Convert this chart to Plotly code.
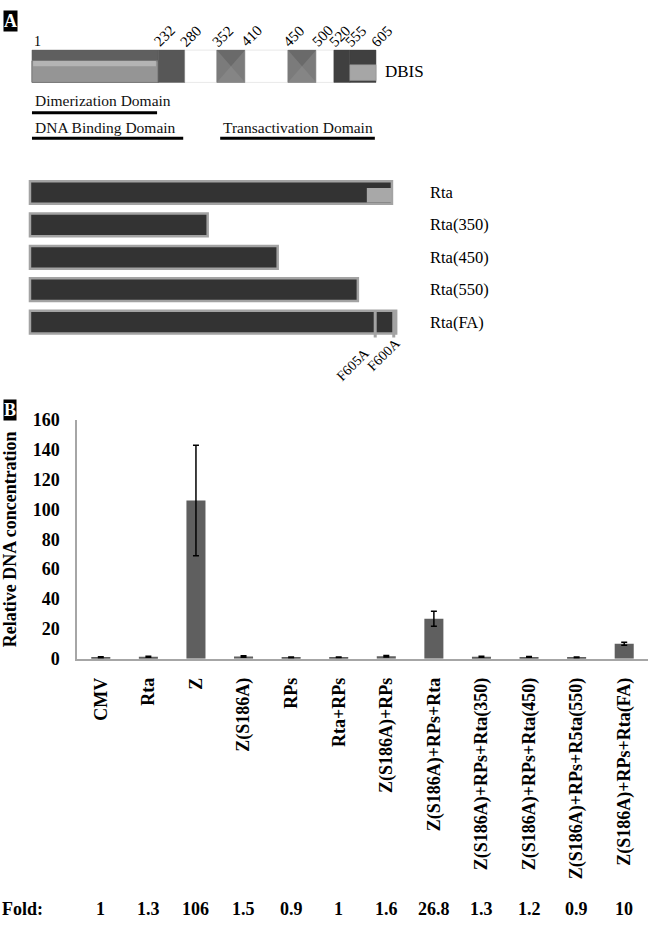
import plotly.graph_objects as go

SERIF = "Liberation Serif"

# --- Panel A: DBIS domain map ---
# residue numbers printed above the map, and where each boundary is drawn
# (the schematic is not to scale, so drawn positions are read off the figure)
dbis_labels = ["1", "232", "280", "352", "410", "450", "500", "520", "555", "605"]
dbis_drawn = [0, 222, 269, 325, 375, 450, 500, 531, 559, 605]
dbis_kind = ["dim", "dark", "white", "bevel", "white", "bevel", "white", "darker", "darker"]

domains = ["Dimerization Domain", "DNA Binding Domain", "Transactivation Domain"]
domain_start = [0, 0, 331]
domain_end = [220, 266, 603]

# Rta deletion constructs (drawn lengths)
constructs = ["Rta", "Rta(350)", "Rta(450)", "Rta(550)", "Rta(FA)"]
construct_len = [605, 297, 414, 548, 612]
fa_marks = [577, 608]
fa_labels = ["F605A", "F600A"]

# --- Panel B: qPCR ---
samples = [
    "CMV", "Rta", "Z", "Z(S186A)", "RPs", "Rta+RPs", "Z(S186A)+RPs",
    "Z(S186A)+RPs+Rta", "Z(S186A)+RPs+Rta(350)", "Z(S186A)+RPs+Rta(450)",
    "Z(S186A)+RPs+R5ta(550)", "Z(S186A)+RPs+Rta(FA)",
]
rel_dna = [1, 1.3, 106, 1.5, 0.9, 1, 1.6, 26.8, 1.3, 1.2, 0.9, 10]
rel_err = [0.3, 0.3, 37, 0.5, 0.2, 0.2, 0.5, 5, 0.3, 0.2, 0.2, 1]
fold = ["1", "1.3", "106", "1.5", "0.9", "1", "1.6", "26.8", "1.3", "1.2", "0.9", "10"]

W, H = 650, 927


def px_x(p):
    return p / W


def px_y(p):
    return (H - p) / H


fig = go.Figure()

fig.add_trace(
    go.Bar(
        x=samples,
        y=rel_dna,
        width=0.4,
        marker=dict(color="#5f5f5f", line=dict(width=0)),
        error_y=dict(type="data", array=rel_err, color="black", thickness=1.5, width=3),
        xaxis="x",
        yaxis="y",
    )
)

fig.add_trace(
    go.Bar(
        x=construct_len,
        y=constructs,
        orientation="h",
        width=0.7,
        marker=dict(color="#333333", line=dict(color="#a3a3a3", width=2.5)),
        xaxis="x3",
        yaxis="y3",
    )
)

shapes = []
annotations = []

# DBIS bar segments
seg_fill = {"dim": "#5f5f5f", "dark": "#575757", "white": "white", "bevel": "#7b7b7b", "darker": "#404040"}
for i, kind in enumerate(dbis_kind):
    x0, x1 = dbis_drawn[i], dbis_drawn[i + 1]
    shapes.append(dict(type="rect", xref="x2", yref="y2", x0=x0, x1=x1, y0=0, y1=1,
                       fillcolor=seg_fill[kind],
                       line=dict(color="#d0d0d0" if kind == "white" else seg_fill[kind], width=0.5)))
    if kind == "bevel":
        xm = (x0 + x1) / 2
        shapes.append(dict(type="path", xref="x2", yref="y2",
                           path=f"M {x0},1 L {x1},1 L {xm},0.5 Z",
                           fillcolor="#6a6a6a", line=dict(width=0)))
        shapes.append(dict(type="path", xref="x2", yref="y2",
                           path=f"M {x0},0 L {x1},0 L {xm},0.5 Z",
                           fillcolor="#858585", line=dict(width=0)))
    if kind == "dim":
        shapes.append(dict(type="rect", xref="x2", yref="y2", x0=x0, x1=x1, y0=0, y1=0.667,
                           fillcolor="#959595", line=dict(color="#7a7a7a", width=1)))
        shapes.append(dict(type="rect", xref="x2", yref="y2", x0=x0 + 2, x1=x1 - 4, y0=0.5, y1=0.66,
                           fillcolor="#b4b4b4", line=dict(width=0)))
# DBIS light box at the C-terminus
shapes.append(dict(type="rect", xref="x2", yref="y2", x0=dbis_drawn[-2], x1=dbis_drawn[-1],
                   y0=0.06, y1=0.545, fillcolor="#a6a6a6", line=dict(color="#999999", width=0.5)))

for i, lab in enumerate(dbis_labels):
    if i == 0:
        annotations.append(dict(text=lab, xref="x2", yref="y2", x=dbis_drawn[i], y=1.27,
                                xanchor="left", yanchor="middle", showarrow=False,
                                font=dict(family=SERIF, size=14, color="black")))
    else:
        annotations.append(dict(text=lab, xref="x2", yref="y2", x=dbis_drawn[i], y=1.45,
                                xanchor="center", yanchor="middle", xshift=6, textangle=-45,
                                showarrow=False, font=dict(family=SERIF, size=15, color="black")))

annotations.append(dict(text="DBIS", xref="x2", yref="y2", x=617, y=0.33, xanchor="left",
                        yanchor="middle", showarrow=False,
                        font=dict(family=SERIF, size=17, color="black")))

# functional domains with underlines
dom_text_y = [-0.55, -1.39, -1.39]
dom_line_y = [-0.94, -1.73, -1.73]
for name, s, e, ty, ly in zip(domains, domain_start, domain_end, dom_text_y, dom_line_y):
    annotations.append(dict(text=name, xref="x2", yref="y2", x=s, y=ty, xanchor="left",
                            yanchor="middle", xshift=1, showarrow=False,
                            font=dict(family=SERIF, size=15.5, color="#111111")))
    shapes.append(dict(type="line", xref="x2", yref="y2", x0=s, x1=e, y0=ly, y1=ly,
                       line=dict(color="black", width=3)))

# Rta construct details
shapes.append(dict(type="rect", xref="x3", yref="y3", x0=563, x1=construct_len[0] - 1,
                   y0=-0.14, y1=0.31, fillcolor="#a8a8a8", line=dict(width=0)))
for xm in fa_marks:
    shapes.append(dict(type="line", xref="x3", yref="y3", x0=xm, x1=xm, y0=3.64, y1=4.48,
                       line=dict(color="#a3a3a3", width=3)))
for lab, xl, yl in zip(fa_labels, [353, 384], [362, 352]):
    annotations.append(dict(text=lab, xref="paper", yref="paper", x=px_x(xl), y=px_y(yl),
                            textangle=-45, xanchor="center", yanchor="middle", showarrow=False,
                            font=dict(family=SERIF, size=14, color="black")))
for c in constructs:
    annotations.append(dict(text=c, xref="x3", yref="y3", x=665, y=c, xanchor="left",
                            yanchor="middle", showarrow=False,
                            font=dict(family=SERIF, size=16.5, color="black")))

# panel letters
for letter, yp in [("A", 11), ("B", 409)]:
    annotations.append(dict(text=f"<b>{letter}</b>", xref="paper", yref="paper", x=px_x(3),
                            y=px_y(yp), xanchor="left", yanchor="middle", showarrow=False,
                            bgcolor="black", borderpad=0,
                            font=dict(family=SERIF, size=18, color="white")))

# y title of panel B
annotations.append(dict(text="<b>Relative DNA concentration</b>", xref="paper", yref="paper",
                        x=px_x(10), y=px_y(541), textangle=-90, xanchor="center",
                        yanchor="middle", showarrow=False,
                        font=dict(family=SERIF, size=18, color="black")))

# fold row
FOLD_Y = 919
annotations.append(dict(text="<b>Fold:</b>", xref="paper", yref="paper", x=0, y=px_y(FOLD_Y),
                        xanchor="left", yanchor="middle", showarrow=False,
                        font=dict(family=SERIF, size=18, color="black")))
for s, f in zip(samples, fold):
    annotations.append(dict(text=f"<b>{f}</b>", xref="x", yref="paper", x=s, y=px_y(FOLD_Y),
                            xanchor="center", yanchor="middle", showarrow=False,
                            font=dict(family=SERIF, size=18, color="black")))

fig.update_layout(
    width=W,
    height=H,
    margin=dict(l=0, r=0, t=0, b=0),
    paper_bgcolor="white",
    plot_bgcolor="white",
    showlegend=False,
    bargap=0.6,
    shapes=shapes,
    annotations=annotations,
    xaxis=dict(
        domain=[px_x(77), px_x(648)],
        anchor="y",
        type="category",
        showline=True,
        linecolor="#a6a6a6",
        linewidth=1.5,
        showgrid=False,
        ticks="",
        tickangle=-90,
        ticklabelstandoff=10,
        tickfont=dict(family=SERIF, size=18, color="black", weight="bold"),
    ),
    yaxis=dict(
        domain=[px_y(663), px_y(419)],
        anchor="x",
        range=[0, 160],
        dtick=20,
        showline=True,
        linecolor="#a6a6a6",
        linewidth=1.5,
        showgrid=False,
        zeroline=False,
        ticks="",
        ticklabelstandoff=12,
        tickfont=dict(family=SERIF, size=18, color="black", weight="bold"),
    ),
    xaxis2=dict(domain=[px_x(20.6), px_x(430)], anchor="y2", range=[-20, 700], visible=False),
    yaxis2=dict(domain=[px_y(140), 1], anchor="x2", range=[-2.0, 2.242], visible=False),
    xaxis3=dict(domain=[px_x(18.0), px_x(448.8)], anchor="y3", range=[-20, 700], visible=False),
    yaxis3=dict(
        domain=[px_y(335.5), px_y(170)],
        anchor="x3",
        type="category",
        categoryorder="array",
        categoryarray=constructs,
        range=[4.5, -0.5],
        visible=False,
    ),
)

# the page body has a default 8px margin; drop it so the figure fills the window
fig.write_html(
    "out.html",
    config={"displayModeBar": False},
    post_script="document.body.style.margin='0';",
)
